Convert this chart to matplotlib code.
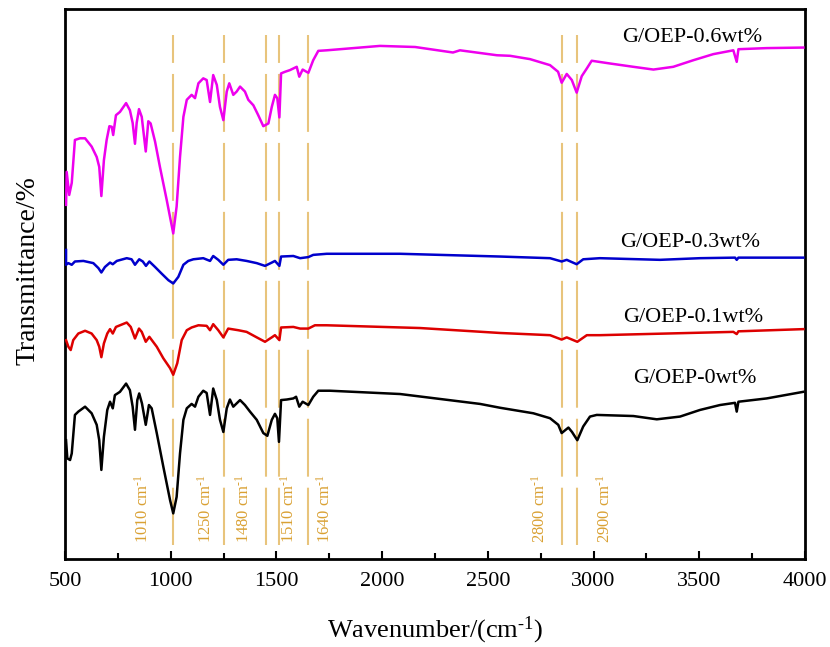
import matplotlib
matplotlib.use("Agg")
import matplotlib.pyplot as plt
from matplotlib.ticker import MultipleLocator

plt.rcParams['font.family'] = ['Liberation Serif', 'DejaVu Serif']
plt.rcParams['mathtext.fontset'] = 'custom'
plt.rcParams['mathtext.rm'] = 'Liberation Serif'
plt.rcParams['mathtext.it'] = 'Liberation Serif:italic'

# spectra (wavenumber, transmittance in arbitrary offset units)
wn_06 = [505, 508, 520, 532, 547, 571, 595, 626, 650, 662, 672, 684, 697, 710, 721, 728,
         741, 760, 789, 807, 820, 831, 839, 850, 863, 882, 894, 905, 926, 949, 981, 1012,
         1028, 1044, 1060, 1076, 1099, 1115, 1131, 1154, 1170, 1186, 1201, 1218, 1233, 1249,
         1265, 1277, 1296, 1312, 1328, 1351, 1367, 1391, 1414, 1438, 1462, 1478, 1493, 1504,
         1514, 1522, 1541, 1564, 1580, 1596, 1608, 1624, 1651, 1674, 1698, 1738, 1990, 2156,
         2335, 2368, 2543, 2605, 2699, 2794, 2832, 2849, 2873, 2897, 2920, 2944, 2968, 2991,
         3078, 3188, 3283, 3377, 3472, 3566, 3661, 3677, 3685, 3819, 3992]
t_06 = [64.4, 70.4, 66.2, 68.4, 76.2, 76.5, 76.5, 75.0, 73.1, 71.3, 66.0, 72.5, 76.2, 78.7, 78.6, 77.1,
        80.7, 81.3, 82.9, 81.6, 79.3, 75.5, 79.3, 81.8, 80.4, 74.1, 79.6, 79.2, 75.9, 71.3, 65.3, 59.2,
        64.1, 73.1, 80.4, 83.5, 84.4, 83.8, 86.5, 87.4, 87.1, 83.1, 88.0, 86.2, 82.2, 79.8,
        85.0, 86.5, 84.4, 85.0, 85.9, 85.0, 83.5, 82.5, 80.7, 78.7, 79.2, 82.2, 84.4, 83.8,
        80.3, 88.3, 88.6, 88.9, 89.2, 89.5, 87.7, 89.0, 88.4, 90.7, 92.4, 92.5, 93.3, 93.1,
        92.1, 92.5, 91.6, 91.5, 90.9, 89.8, 88.6, 86.6, 88.2, 87.1, 84.8, 87.8, 89.2, 90.6,
        90.1, 89.5, 89.0, 89.5, 90.7, 91.8, 92.5, 90.4, 92.7, 92.9, 93.0]

wn_03 = [505, 505, 516, 532, 547, 587, 634, 658, 672, 689, 713, 726, 745, 792, 815, 831,
         851, 868, 883, 899, 926, 957, 989, 1012, 1036, 1060, 1083, 1107, 1154, 1186, 1201,
         1225, 1249, 1272, 1312, 1359, 1407, 1446, 1478, 1493, 1514, 1522, 1580, 1612, 1651,
         1674, 1738, 2085, 2558, 2794, 2849, 2873, 2920, 2951, 3030, 3314, 3503, 3669, 3677,
         3685, 3992]
t_03 = [56.2, 53.5, 53.8, 53.5, 54.1, 54.2, 53.8, 52.9, 52.1, 53.1, 53.9, 53.6, 54.2, 54.7, 54.5, 53.5,
        54.5, 54.1, 53.3, 54.1, 53.1, 51.9, 50.7, 50.1, 51.3, 53.5, 54.2, 54.5, 54.7, 54.2, 55.1,
        54.4, 53.5, 54.4, 54.5, 54.2, 53.8, 53.3, 53.9, 54.2, 53.3, 55.0, 55.1, 54.7, 54.9,
        55.3, 55.5, 55.5, 55.0, 54.7, 54.1, 54.4, 53.6, 54.5, 54.7, 54.4, 54.7, 54.8, 54.4,
        54.8, 54.8]

wn_01 = [505, 516, 527, 539, 563, 595, 626, 650, 662, 672, 684, 700, 713, 726, 741, 792,
         811, 831, 850, 863, 882, 899, 934, 965, 997, 1012, 1031, 1052, 1076, 1099, 1131,
         1170, 1186, 1201, 1225, 1249, 1272, 1320, 1359, 1407, 1446, 1478, 1493, 1514, 1522,
         1580, 1612, 1651, 1682, 1738, 2179, 2558, 2794, 2849, 2873, 2923, 2968, 3030, 3346,
         3661, 3677, 3685, 3992]
t_01 = [39.8, 38.6, 38.0, 39.8, 41.0, 41.5, 41.0, 39.8, 38.6, 36.7, 39.2, 41.0, 41.8, 41.0, 42.2, 43.0,
        42.2, 40.1, 41.9, 41.3, 39.5, 40.4, 38.6, 36.5, 34.7, 33.5, 35.6, 39.8, 41.6, 42.1, 42.5,
        42.4, 41.6, 42.7, 41.6, 40.3, 41.9, 41.6, 41.3, 40.3, 39.5, 40.3, 40.7, 39.8, 42.1,
        42.2, 41.9, 41.9, 42.5, 42.5, 42.0, 41.1, 40.7, 39.9, 40.3, 39.5, 40.7, 40.7, 41.0,
        41.3, 40.9, 41.4, 41.8]

wn_0 = [505, 511, 524, 532, 547, 563, 595, 626, 650, 662, 672, 684, 700, 713, 726, 736,
        760, 789, 807, 820, 831, 842, 851, 864, 882, 897, 910, 934, 965, 997, 1012, 1028,
        1044, 1060, 1076, 1099, 1115, 1131, 1154, 1170, 1186, 1201, 1218, 1233, 1249, 1265,
        1280, 1296, 1328, 1351, 1375, 1407, 1438, 1457, 1478, 1493, 1504, 1512, 1522, 1549,
        1580, 1593, 1608, 1624, 1651, 1674, 1698, 1753, 2085, 2463, 2558, 2715, 2794, 2833,
        2849, 2881, 2898, 2923, 2951, 2983, 3015, 3188, 3299, 3409, 3503, 3598, 3669, 3677,
        3685, 3819, 3992]
t_0 = [21.6, 18.3, 18.0, 19.2, 26.2, 26.8, 27.7, 26.5, 24.4, 21.6, 16.2, 22.2, 27.1, 28.6, 27.4, 29.8,
       30.4, 31.9, 30.7, 27.7, 23.5, 28.9, 30.1, 28.3, 24.4, 28.0, 27.4, 22.9, 16.8, 10.7, 8.3, 11.3,
       19.2, 25.3, 27.4, 28.2, 27.7, 29.5, 30.6, 30.2, 26.2, 31.0, 28.9, 25.3, 23.1, 27.4,
       29.0, 27.7, 28.9, 28.0, 26.8, 25.3, 22.9, 22.4, 25.3, 26.4, 25.6, 21.3, 28.9, 29.0,
       29.2, 29.5, 27.7, 28.6, 28.0, 29.5, 30.6, 30.6, 30.0, 28.2, 27.5, 26.5, 25.6, 24.4,
       22.9, 23.9, 23.1, 21.6, 24.1, 25.9, 26.2, 26.0, 25.4, 25.9, 27.1, 28.0, 28.4, 26.8,
       28.6, 29.2, 30.4]

series_names = ['G/OEP-0.6wt%', 'G/OEP-0.3wt%', 'G/OEP-0.1wt%', 'G/OEP-0wt%']
series_colors = ['#EE00EE', '#0000CC', '#DD0000', '#000000']

# marked bands: line position, label text, label position
band_pos = [1010, 1250, 1450, 1510, 1650, 2850, 2920]
band_labels = ['1010', '1250', '1480', '1510', '1640', '2800', '2900']
band_label_x = [869, 1165, 1345, 1560, 1730, 2747, 3054]

fig = plt.figure(figsize=(8.3, 6.47), dpi=100)
ax = fig.add_axes([0.0783, 0.136, 0.8916, 0.850])

for x in band_pos:
    ax.plot([x, x], [95.3, 2.5], color='#E8C47C', lw=1.5,
            linestyle=(14.4, (27.8, 5.3)), zorder=1)

for wn, t, c in zip([wn_06, wn_03, wn_01, wn_0], [t_06, t_03, t_01, t_0], series_colors):
    ax.plot(wn, t, color=c, lw=1.8, zorder=3)

for lab, x in zip(band_labels, band_label_x):
    ax.text(x, 2.9, lab + r' cm$^{\text{-}1}$', rotation=90, ha='center', va='bottom',
            color='#D9A032', fontsize=12)

label_x = [3466, 3456, 3470, 3480]
label_y = [94.8, 57.6, 44.0, 32.8]
for name, x, y in zip(series_names, label_x, label_y):
    ax.text(x, y, name, ha='center', va='center', fontsize=16)

ax.set_xlim(500, 4000)
ax.set_ylim(0, 100)
ax.set_yticks([])
ax.xaxis.set_major_locator(MultipleLocator(500))
ax.xaxis.set_minor_locator(MultipleLocator(250))
ax.tick_params(axis='x', which='major', direction='in', length=6, width=1.5,
               labelsize=16, pad=9)
ax.tick_params(axis='x', which='minor', direction='in', length=4, width=1.5)
for s in ax.spines.values():
    s.set_linewidth(2)

ax.set_xlabel(r'Wavenumber/(cm$^{\text{-}1}$)', fontsize=19)
ax.xaxis.set_label_coords(0.5, -0.102)
ax.set_ylabel('Transmittance/%', fontsize=20)
ax.yaxis.set_label_coords(-0.033, 0.524)

fig.savefig('out.png', dpi=100)
